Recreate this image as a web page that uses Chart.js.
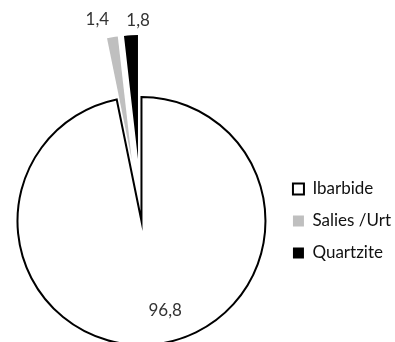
<!DOCTYPE html>
<html>
<head>
<meta charset="utf-8">
<script src="https://cdn.jsdelivr.net/npm/chart.js@4/dist/chart.umd.min.js"></script>
<style>
  html, body { margin: 0; padding: 0; background: #fff; }
  #wrap { width: 395px; height: 342px; }
</style>
</head>
<body>
<div id="wrap"><canvas id="c" width="395" height="342"></canvas></div>
<script>
const categories = ['Ibarbide', 'Salies /Urt', 'Quartzite'];
const values = [96.8, 1.4, 1.8];
const fillColors = ['#ffffff', '#bfbfbf', '#000000'];
const lineColors = ['#000000', '#bfbfbf', '#000000'];

const FONT = 'Lato, "Liberation Sans", sans-serif';

// draws the library's own arc elements, pushing exploded slices outwards
const explode = {
  id: 'explode',
  beforeDatasetDraw(chart, args, opts) {
    const ctx = chart.ctx;
    args.meta.data.forEach((arc, i) => {
      const d = (opts.distance && opts.distance[i]) || 0;
      const p = arc.getProps(['startAngle', 'endAngle'], true);
      const mid = (p.startAngle + p.endAngle) / 2;
      ctx.save();
      ctx.translate(Math.cos(mid) * d, Math.sin(mid) * d);
      arc.draw(ctx, chart.chartArea);
      ctx.restore();
    });
    return false;
  }
};

const sliceLabels = {
  id: 'sliceLabels',
  afterDatasetsDraw(chart, args, opts) {
    const meta = chart.getDatasetMeta(0);
    const dist = chart.options.plugins.explode.distance;
    const ctx = chart.ctx;
    ctx.save();
    ctx.font = '17px ' + FONT;
    ctx.fillStyle = '#333333';
    ctx.textAlign = 'center';
    ctx.textBaseline = 'middle';
    meta.data.forEach((arc, i) => {
      const p = arc.getProps(['x', 'y', 'startAngle', 'endAngle', 'outerRadius', 'circumference'], true);
      const mid = (p.startAngle + p.endAngle) / 2;
      const inside = p.circumference > Math.PI;
      const r = inside ? p.outerRadius * 0.7 : p.outerRadius + (dist[i] || 0) + 16;
      const nudge = (opts.nudge && opts.nudge[i]) || [0, 0];
      const txt = values[i].toFixed(1).replace('.', ',');
      ctx.fillText(txt, p.x + Math.cos(mid) * r + nudge[0], p.y + Math.sin(mid) * r + nudge[1]);
    });
    ctx.restore();
  }
};

new Chart(document.getElementById('c'), {
  type: 'pie',
  data: {
    labels: categories,
    datasets: [{
      data: values,
      backgroundColor: fillColors,
      borderColor: lineColors,
      borderWidth: [2, 0, 0],
      borderJoinStyle: 'miter'
    }]
  },
  options: {
    responsive: false,
    devicePixelRatio: 1,
    animation: false,
    radius: 124,
    layout: { padding: { left: 5, right: -6, top: 100, bottom: 0 } },
    plugins: {
      tooltip: { enabled: false },
      legend: {
        position: 'right',
        labels: {
          boxWidth: 11,
          boxHeight: 11,
          padding: 15,
          color: '#111111',
          font: { family: FONT, size: 17 }
        }
      },
      explode: { distance: [0, 62, 62] },
      sliceLabels: { nudge: [[15, 3], [-12.5, -1.5], [8, 0.7]] }
    }
  },
  plugins: [explode, sliceLabels]
});
</script>
</body>
</html>
